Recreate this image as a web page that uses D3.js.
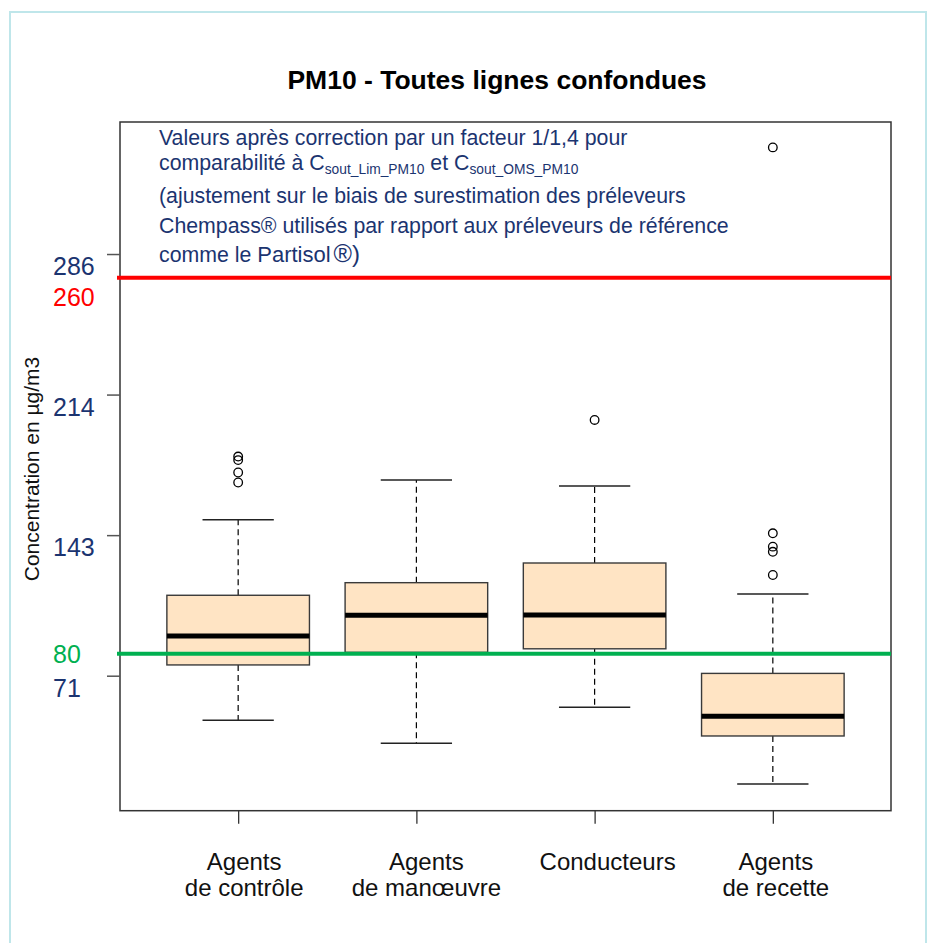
<!DOCTYPE html>
<html>
<head>
<meta charset="utf-8">
<script src="https://cdn.jsdelivr.net/npm/d3@7"></script>
<style>
  html, body { margin: 0; padding: 0; background: #ffffff; }
  svg { display: block; font-family: "Liberation Sans", Arial, sans-serif; }
</style>
</head>
<body>
<svg id="chart" width="934" height="943"></svg>
<script>
// ---------------- data ----------------
const categories = ["Agents de contrôle", "Agents de manœuvre", "Conducteurs", "Agents de recette"];
const categoryLines = [["Agents", "de contrôle"], ["Agents", "de manœuvre"], ["Conducteurs"], ["Agents", "de recette"]];
const whiskerLow  = [48.8, 37.1, 55.4, 16.4];
const q1          = [76.9, 83.3, 85.1, 40.8];
const median      = [91.6, 102.1, 102.3, 50.8];
const q3          = [112.3, 118.7, 128.7, 72.6];
const whiskerHigh = [150.7, 170.9, 167.8, 112.9];
const outliers    = [[169.6, 174.7, 181.0, 182.8], [], [201.4], [122.6, 134.4, 137.0, 143.8, 339.9]];
const yTickValues = [71.43, 142.86, 214.29, 285.71];
const yTickLabels = ["71", "143", "214", "286"];
const refValues   = [273.7, 82.6];
const refLabels   = ["260", "80"];
const refColors   = ["#ff0000", "#00b050"];
const yDomain     = [2.83, 352.8];
const title = "PM10 - Toutes lignes confondues";
const yTitle = "Concentration en µg/m3";

// ---------------- layout ----------------
const svg = d3.select("#chart");
const plot = { left: 120, right: 891, top: 122, bottom: 810.7 };
const navy = "#1b3470";
const refLabelDy = [28, 9];
const catLabelDx = [6, 10, 13, 3];

// outer frame
svg.append("rect").attr("x", 10).attr("y", 12).attr("width", 916).attr("height", 945)
  .attr("fill", "none").attr("stroke", "#bfe6ea").attr("stroke-width", 2);

const x = d3.scalePoint().domain(categories).range([plot.left, plot.right]).padding(0.663);
const step = x.step();
const boxW = step * 0.8;
const y = d3.scaleLinear().domain(yDomain).range([plot.bottom, plot.top]);

const stats = categories.map((c, i) => ({
  cat: c, lo: whiskerLow[i], q1: q1[i], med: median[i], q3: q3[i], hi: whiskerHigh[i], out: outliers[i]
}));

const g = svg.append("g");

// whiskers (dashed)
g.selectAll(".wup").data(stats).enter().append("line")
  .attr("x1", d => x(d.cat)).attr("x2", d => x(d.cat))
  .attr("y1", d => y(d.q3)).attr("y2", d => y(d.hi))
  .attr("stroke", "#000").attr("stroke-width", 1.2).attr("stroke-dasharray", "6,4");
g.selectAll(".wdn").data(stats).enter().append("line")
  .attr("x1", d => x(d.cat)).attr("x2", d => x(d.cat))
  .attr("y1", d => y(d.q1)).attr("y2", d => y(d.lo))
  .attr("stroke", "#000").attr("stroke-width", 1.2).attr("stroke-dasharray", "6,4");
// staples
["hi", "lo"].forEach(k => {
  g.selectAll(".st" + k).data(stats).enter().append("line")
    .attr("x1", d => x(d.cat) - boxW / 4).attr("x2", d => x(d.cat) + boxW / 4)
    .attr("y1", d => y(d[k])).attr("y2", d => y(d[k]))
    .attr("stroke", "#222").attr("stroke-width", 1.5);
});
// boxes
g.selectAll(".box").data(stats).enter().append("rect")
  .attr("x", d => x(d.cat) - boxW / 2).attr("width", boxW)
  .attr("y", d => y(d.q3)).attr("height", d => y(d.q1) - y(d.q3))
  .attr("fill", "#ffe4c4").attr("stroke", "#3a3a3a").attr("stroke-width", 1.4);
// medians
g.selectAll(".med").data(stats).enter().append("line")
  .attr("x1", d => x(d.cat) - boxW / 2).attr("x2", d => x(d.cat) + boxW / 2)
  .attr("y1", d => y(d.med)).attr("y2", d => y(d.med))
  .attr("stroke", "#000").attr("stroke-width", 5);
// outliers
stats.forEach(d => {
  g.selectAll(null).data(d.out).enter().append("circle")
    .attr("cx", x(d.cat)).attr("cy", v => y(v)).attr("r", 4.3)
    .attr("fill", "none").attr("stroke", "#000").attr("stroke-width", 1.3);
});

// plot frame
svg.append("rect").attr("x", plot.left).attr("y", plot.top)
  .attr("width", plot.right - plot.left).attr("height", plot.bottom - plot.top)
  .attr("fill", "none").attr("stroke", "#333").attr("stroke-width", 1.5);

// y axis ticks
const yAxis = d3.axisLeft(y).tickValues(yTickValues).tickSize(13).tickFormat("");
const ya = svg.append("g").attr("transform", `translate(${plot.left},0)`).call(yAxis);
ya.select(".domain").remove();
ya.selectAll(".tick line").attr("stroke", "#555").attr("stroke-width", 1.5);
svg.selectAll(".ylab").data(yTickValues).enter().append("text")
  .attr("x", 53).attr("y", v => y(v) + 21)
  .attr("font-size", 25).attr("fill", navy)
  .text((v, i) => yTickLabels[i]);

// x axis ticks
const xAxis = d3.axisBottom(x).tickSize(13).tickFormat("");
const xa = svg.append("g").attr("transform", `translate(0,${plot.bottom})`).call(xAxis);
xa.select(".domain").remove();
xa.selectAll(".tick line").attr("stroke", "#333").attr("stroke-width", 1.3);
categories.forEach((c, i) => {
  const t = svg.append("text").attr("text-anchor", "middle").attr("font-size", 24).attr("fill", "#111")
    .attr("x", x(c) + catLabelDx[i]).attr("y", 869.5);
  categoryLines[i].forEach((ln, j) => {
    t.append("tspan").attr("x", x(c) + catLabelDx[i]).attr("dy", j === 0 ? 0 : 26.5).text(ln);
  });
});

// reference lines
refValues.forEach((v, i) => {
  svg.append("line").attr("x1", plot.left - 3).attr("x2", plot.right)
    .attr("y1", y(v)).attr("y2", y(v))
    .attr("stroke", refColors[i]).attr("stroke-width", 4);
  svg.append("text").attr("x", 53).attr("y", y(v) + refLabelDy[i])
    .attr("font-size", 25).attr("fill", refColors[i]).text(refLabels[i]);
});

// title
svg.append("text").attr("x", 497).attr("y", 89).attr("text-anchor", "middle")
  .attr("font-size", 26.5).attr("font-weight", "bold").attr("fill", "#000").text(title);

// y title
svg.append("text").attr("transform", "translate(39,469) rotate(-90)")
  .attr("text-anchor", "middle").attr("font-size", 21).attr("fill", "#111").text(yTitle);

// annotation text block
const note = svg.append("g").attr("fill", navy).attr("font-size", 21.3);
note.append("text").attr("x", 159).attr("y", 145).text("Valeurs après correction par un facteur 1/1,4 pour");
const l2 = note.append("text").attr("x", 159).attr("y", 170);
l2.append("tspan").text("comparabilité à C");
l2.append("tspan").attr("font-size", 13.8).attr("dy", 4).text("sout_Lim_PM10");
l2.append("tspan").attr("dy", -4).text(" et C");
l2.append("tspan").attr("font-size", 13.8).attr("dy", 4).text("sout_OMS_PM10");
note.append("text").attr("x", 159).attr("y", 203).text("(ajustement sur le biais de surestimation des préleveurs");
note.append("text").attr("x", 159).attr("y", 233).text("Chempass® utilisés par rapport aux préleveurs de référence");
const l5 = note.append("text").attr("x", 159).attr("y", 262);
l5.append("tspan").text("comme le ");
l5.append("tspan").attr("font-size", 22).text("Partisol");
l5.append("tspan").attr("font-size", 25).attr("dx", 3).text("®");
l5.append("tspan").attr("font-size", 24).text(")");
</script>
</body>
</html>
